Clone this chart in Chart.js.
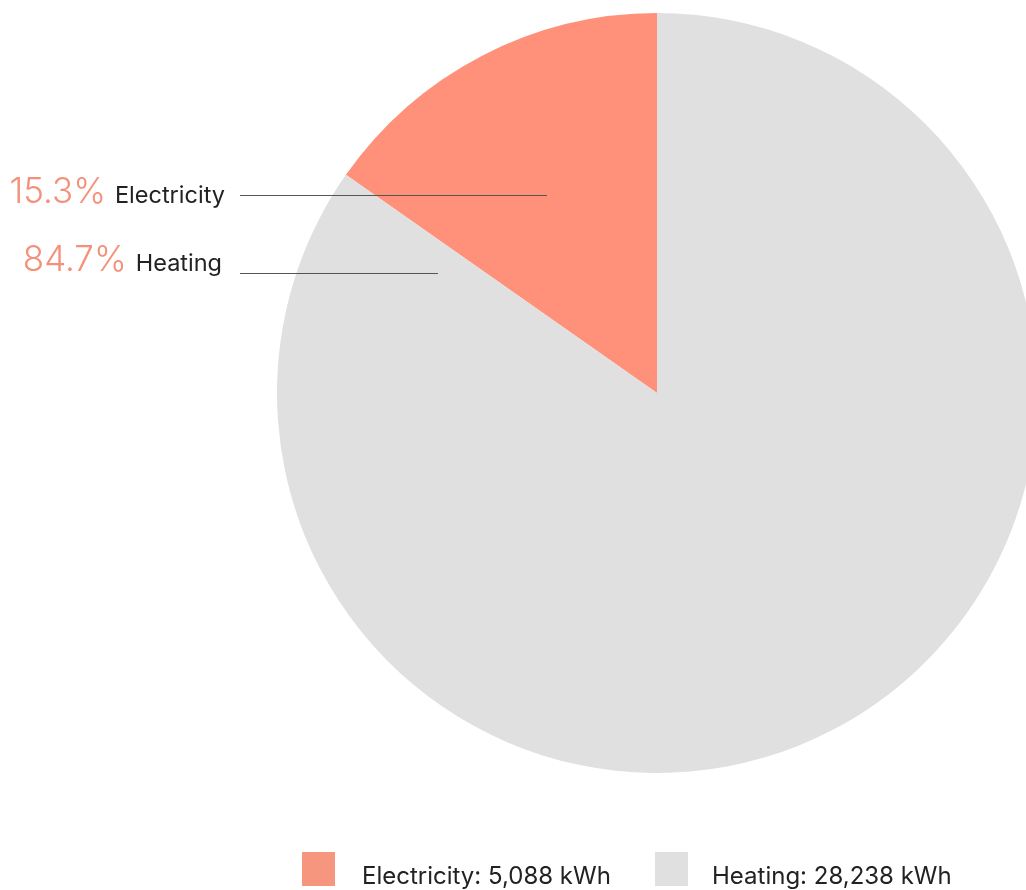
<!DOCTYPE html>
<html><head><meta charset="utf-8">
<script src="https://cdn.jsdelivr.net/npm/chart.js@4/dist/chart.umd.min.js"></script>
<style>
html,body{margin:0;padding:0;background:#fff;overflow:hidden;width:1026px;height:890px;}
#wrap{position:absolute;left:0;top:0;width:1314px;height:890px;}
</style></head><body>
<div id="wrap"><canvas id="c" width="1314" height="890"></canvas></div>
<script>
const categories = ["Electricity", "Heating"];
const values = [5088, 28238];
const colors = ["#FF9079", "#E0E0E0"];
const legendColors = ["#F7967F", "#E0E0E0"];
const unit = "kWh";

const total = values.reduce((a,b)=>a+b,0);
const pct = values.map(v => (v/total*100).toFixed(1) + "%");

const labelPlugin = {
  id: 'labels',
  afterDraw(chart) {
    const ctx = chart.ctx;
    ctx.save();
    const rows = [{y: 195, base: 203, lineEnd: 547, nx: 225}, {y: 273, base: 271, lineEnd: 438, nx: 222}];
    categories.forEach((cat, i) => {
      const r = rows[i];
      ctx.font = '400 23.5px Inter, "Noto Sans", sans-serif';
      ctx.fillStyle = '#222';
      ctx.textAlign = 'right';
      ctx.textBaseline = 'alphabetic';
      ctx.fillText(cat, r.nx, r.base);
      const w = ctx.measureText(cat).width;
      ctx.font = '300 35px Inter, "Noto Sans", sans-serif';
      ctx.fillStyle = '#F4917A';
      ctx.fillText(pct[i], r.nx - w - 9, r.base);
      ctx.strokeStyle = '#555';
      ctx.lineWidth = 1;
      ctx.beginPath();
      ctx.moveTo(240, r.y + 0.5);
      ctx.lineTo(r.lineEnd, r.y + 0.5);
      ctx.stroke();
    });
    // legend
    const lx = [302, 655];
    categories.forEach((cat, i) => {
      ctx.fillStyle = legendColors[i];
      ctx.fillRect(lx[i], 852, 33, 34);
      ctx.font = '400 24px Inter, "Noto Sans", sans-serif';
      ctx.fillStyle = '#222';
      ctx.textAlign = 'left';
      ctx.fillText(cat + ": " + values[i].toLocaleString('en-US') + " " + unit, lx[i] + (i === 0 ? 60 : 57), 884);
    });
    ctx.restore();
  }
};

new Chart(document.getElementById('c'), {
  type: 'pie',
  data: {
    labels: categories,
    datasets: [{ data: values, backgroundColor: colors, borderWidth: 0 }]
  },
  options: {
    responsive: false,
    animation: false,
    rotation: -360 * values[0] / total,
    layout: { padding: { top: 13, bottom: 117, left: 0, right: 0 } },
    plugins: { legend: { display: false }, tooltip: { enabled: false } }
  },
  plugins: [labelPlugin]
});
</script>
</body></html>
